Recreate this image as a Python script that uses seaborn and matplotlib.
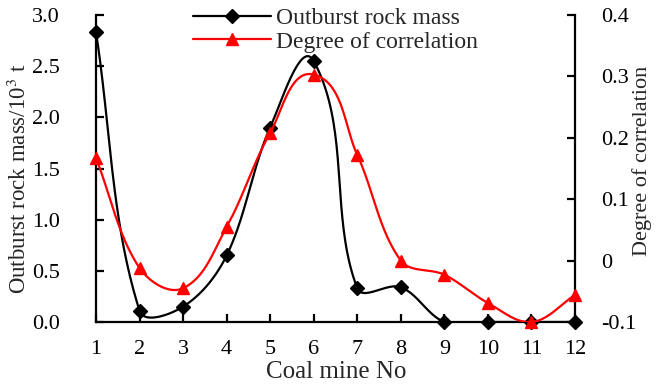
import numpy as np
import pandas as pd
import seaborn as sns
import matplotlib
matplotlib.use("Agg")
import matplotlib.pyplot as plt
from matplotlib.lines import Line2D

mine_no = [1, 2, 3, 4, 5, 6, 7, 8, 9, 10, 11, 12]
rock_mass = [2.83, 0.11, 0.15, 0.65, 1.90, 2.55, 0.33, 0.34, 0.0, 0.0, 0.0, 0.0]
correlation = [0.167, -0.012, -0.045, 0.055, 0.208, 0.303, 0.172, 0.0, -0.023, -0.069, -0.1, -0.056]


def smooth(xs, ys, sx, sy, n=40):
    # smoothed line like a spreadsheet chart: bezier segments, tangents scaled by chord
    p = np.column_stack([np.asarray(xs, float) * sx, np.asarray(ys, float) * sy])
    p = np.vstack([p[0], p, p[-1]])
    out = []
    t = np.linspace(0, 1, n)[:, None]
    for i in range(1, len(p) - 2):
        p0, p1, p2, p3 = p[i - 1], p[i], p[i + 1], p[i + 2]
        L = np.linalg.norm(p2 - p1)
        d1 = p2 - p0
        d2 = p3 - p1
        c1 = p1 + d1 / (np.linalg.norm(d1) + 1e-9) * L / 3
        c2 = p2 - d2 / (np.linalg.norm(d2) + 1e-9) * L / 3
        seg = ((1 - t) ** 3) * p1 + 3 * ((1 - t) ** 2) * t * c1 + 3 * (1 - t) * t ** 2 * c2 + t ** 3 * p2
        out.append(seg)
    out = np.vstack(out)
    return out[:, 0] / sx, out[:, 1] / sy


sns.set_style("ticks")
plt.rcParams['font.family'] = ['Liberation Serif', 'DejaVu Serif']
plt.rcParams['mathtext.fontset'] = 'stix'
fs = 16

W, H = 658, 386
fig = plt.figure(figsize=(W / 100, H / 100), dpi=100)
ax = fig.add_axes([96 / W, 1 - 322 / H, 479 / W, 307 / H])
ax2 = ax.twinx()

# pixel scale per data unit, so the smoothing happens in screen space
px_x = 479 / 11
sx, sy = smooth(mine_no, rock_mass, px_x, 307 / 3.0)
sns.lineplot(x=sx, y=sy, ax=ax, color="black", lw=1.6, sort=False, estimator=None)
ax.plot(mine_no, rock_mass, ls="none", marker="D", ms=7, color="black", clip_on=False, zorder=5)

cx, cy = smooth(mine_no, correlation, px_x, 307 / 0.5)
sns.lineplot(x=cx, y=cy, ax=ax2, color="red", lw=1.6, sort=False, estimator=None)
ax2.plot(mine_no, correlation, ls="none", marker="^", ms=9, color="red", clip_on=False, zorder=5)

ax.set_xlim(1, 12)
ax.set_ylim(0, 3.0)
ax2.set_ylim(-0.1, 0.4)
ax.set_xticks(mine_no)
ax.set_yticks(np.arange(0, 3.01, 0.5))
ax.set_yticklabels(["%.1f" % v for v in np.arange(0, 3.01, 0.5)])
ax2.set_yticks([-0.1, 0, 0.1, 0.2, 0.3, 0.4])
ax2.set_yticklabels(["-0.1", "0", "0.1", "0.2", "0.3", "0.4"])

for a in (ax, ax2):
    a.spines["top"].set_visible(False)
    for s in a.spines.values():
        s.set_linewidth(1.6)
        s.set_color("black")
    a.tick_params(direction="in", length=6, width=1.6, labelsize=fs, colors="black")
ax.tick_params(axis="x", pad=13)
ax.tick_params(axis="y", pad=26)
ax2.tick_params(axis="y", pad=19)
ax.spines["right"].set_visible(False)
ax2.spines["left"].set_visible(False)
ax2.spines["bottom"].set_visible(False)
ax.set_xlabel("")
ax.set_ylabel("")
ax2.set_ylabel("")

fig.text(336 / W, 1 - 372 / H, "Coal mine No", fontsize=18, ha="center", va="center")
fig.text(19 / W, 1 - 179 / H, "Outburst rock mass/10$^3$ t", fontsize=16.5, ha="center",
         va="center", rotation=90)
fig.text(642 / W, 1 - 161 / H, "Degree of correlation", fontsize=16, ha="center",
         va="center", rotation=90)

handles = [
    Line2D([], [], color="black", lw=1.6, marker="D", ms=7),
    Line2D([], [], color="red", lw=1.6, marker="^", ms=9),
]
ax.legend(handles, ["Outburst rock mass", "Degree of correlation"], loc="upper left",
          bbox_to_anchor=((193 - 96) / 479, 1.025), frameon=False, fontsize=17,
          handlelength=3.3, handletextpad=0.2, labelspacing=0.1, borderaxespad=0, borderpad=0)

fig.savefig("out.png", dpi=100)
